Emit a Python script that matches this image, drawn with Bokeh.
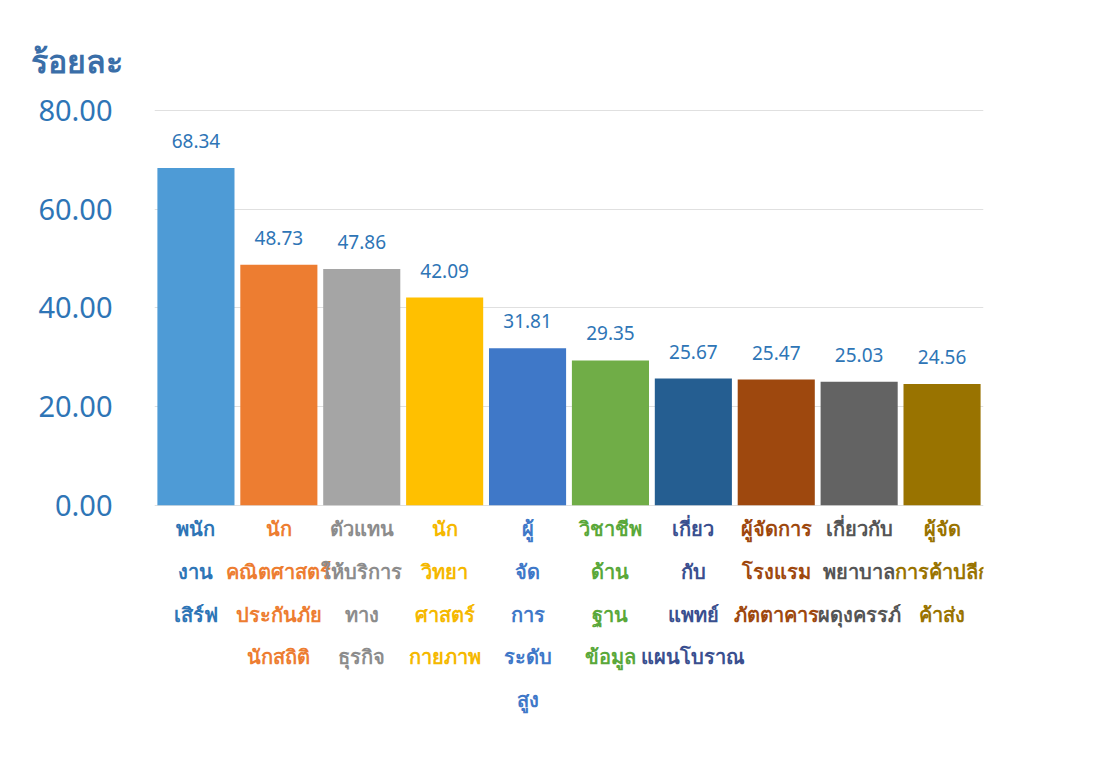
from bokeh.plotting import figure
from bokeh.models import ColumnDataSource, FixedTicker, Range1d, FactorRange
from bokeh.core.properties import value
from bokeh.embed import file_html
from bokeh.resources import INLINE

categories = ["พนักงานเสิร์ฟ", "นักคณิตศาสตร์ประกันภัย นักสถิติ", "ตัวแทนให้บริการทางธุรกิจ",
              "นักวิทยาศาสตร์กายภาพ", "ผู้จัดการระดับสูง", "วิชาชีพด้านฐานข้อมูล",
              "เกี่ยวกับแพทย์แผนโบราณ", "ผู้จัดการโรงแรมภัตตาคาร", "เกี่ยวกับพยาบาลผดุงครรภ์",
              "ผู้จัดการค้าปลีกค้าส่ง"]
label_lines = [
    ["พนัก", "งาน", "เสิร์ฟ"],
    ["นัก", "คณิตศาสตร์", "ประกันภัย", "นักสถิติ"],
    ["ตัวแทน", "ให้บริการ", "ทาง", "ธุรกิจ"],
    ["นัก", "วิทยา", "ศาสตร์", "กายภาพ"],
    ["ผู้", "จัด", "การ", "ระดับ", "สูง"],
    ["วิชาชีพ", "ด้าน", "ฐาน", "ข้อมูล"],
    ["เกี่ยว", "กับ", "แพทย์", "แผนโบราณ"],
    ["ผู้จัดการ", "โรงแรม", "ภัตตาคาร"],
    ["เกี่ยวกับ", "พยาบาล", "ผดุงครรภ์"],
    ["ผู้จัด", "การค้าปลีก", "ค้าส่ง"],
]
values = [68.34, 48.73, 47.86, 42.09, 31.81, 29.35, 25.67, 25.47, 25.03, 24.56]
bar_colors = ["#4e9bd6", "#ed7d31", "#a5a5a5", "#ffc000", "#3f78c8",
              "#70ad47", "#255e91", "#9e480e", "#636363", "#997300"]
label_colors = ["#2e75b6", "#ed7d31", "#8c8c8c", "#f5b800", "#3f78c8",
                "#5aa83a", "#3a4f8f", "#9e480e", "#555555", "#997300"]
y_ticks = [0, 20, 40, 60, 80]
y_title = "ร้อยละ"

FONT = "Noto Sans"
BLUE = "#2e75b6"

src = ColumnDataSource(dict(
    cat=categories,
    val=values,
    color=bar_colors,
    lcolor=label_colors,
    vtext=["%.2f" % v for v in values],
    ltext=["\n".join(l) for l in label_lines],
    zero=[0] * len(values),
))

p = figure(width=1077, height=745, output_backend="svg", toolbar_location=None,
           x_range=FactorRange(*categories, range_padding=0),
           y_range=Range1d(-43, 81),
           min_border_left=154, min_border_right=94, min_border_top=105, min_border_bottom=28)

p.title.text = y_title
p.title.align = "left"
p.title.offset = -124
p.title.standoff = 48
p.title.text_font = FONT
p.title.text_font_size = "32px"
p.title.text_font_style = "bold"
p.title.text_color = "#3a6ea8"

p.vbar(x="cat", top="val", width=0.93, color="color", source=src, line_color=None)

p.text(x="cat", y="val", text="vtext", source=src, text_align="center",
       text_baseline="bottom", y_offset=-20, text_font=value(FONT),
       text_font_size="19px", text_color=BLUE)

p.text(x="cat", y="zero", text="ltext", source=src, text_align="center",
       text_baseline="top", y_offset=10, text_font=value(FONT),
       text_font_size="20px", text_color="lcolor", text_line_height=1.58,
       text_font_style="bold")

p.xaxis.visible = False
p.yaxis.ticker = FixedTicker(ticks=y_ticks)
p.yaxis.major_label_overrides = {t: "%.2f" % t for t in y_ticks}
p.yaxis.axis_line_color = None
p.yaxis.major_tick_line_color = None
p.yaxis.minor_tick_line_color = None
p.yaxis.major_label_standoff = 36
p.yaxis.major_label_text_font = FONT
p.yaxis.major_label_text_font_size = "29px"
p.yaxis.major_label_text_color = BLUE

p.xgrid.visible = False
p.ygrid.ticker = FixedTicker(ticks=y_ticks)
p.ygrid.grid_line_color = "#e0e0e0"
p.outline_line_color = None

open("out.html", "w").write(file_html(p, INLINE))
